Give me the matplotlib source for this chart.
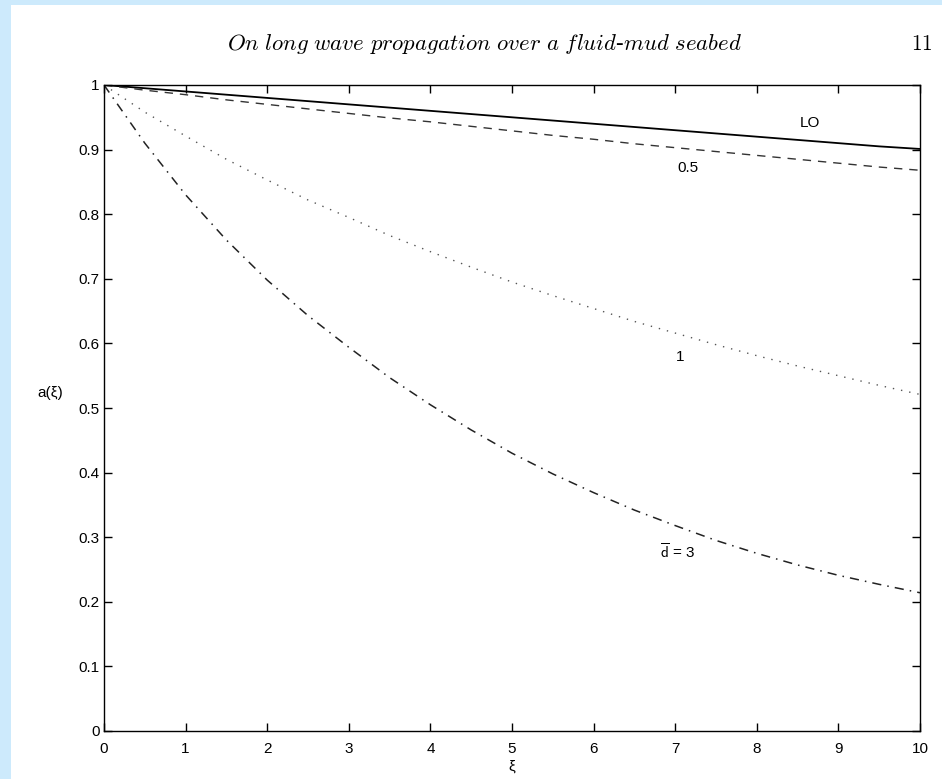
import matplotlib
matplotlib.use("Agg")
import matplotlib.pyplot as plt
from matplotlib.patches import Rectangle

plt.rcParams['font.family'] = ['Liberation Sans', 'DejaVu Sans']
plt.rcParams['mathtext.fontset'] = 'cm'

# values every 0.5 in xi
xi = [0, 0.5, 1, 1.5, 2, 2.5, 3, 3.5, 4, 4.5, 5,
      5.5, 6, 6.5, 7, 7.5, 8, 8.5, 9, 9.5, 10]
a_lo = [1.0, 0.995, 0.990, 0.985, 0.980, 0.975, 0.970, 0.965, 0.960, 0.955, 0.950,
        0.945, 0.940, 0.935, 0.930, 0.925, 0.920, 0.915, 0.910, 0.905, 0.901]
a_d05 = [1.0, 0.992, 0.985, 0.977, 0.970, 0.963, 0.956, 0.949, 0.943, 0.936, 0.929,
         0.922, 0.916, 0.909, 0.903, 0.897, 0.891, 0.885, 0.879, 0.873, 0.868]
a_d1 = [1.0, 0.958, 0.921, 0.885, 0.853, 0.822, 0.795, 0.767, 0.742, 0.718, 0.695,
        0.674, 0.654, 0.634, 0.616, 0.598, 0.581, 0.565, 0.550, 0.535, 0.521]
a_d3 = [1.0, 0.910, 0.830, 0.760, 0.698, 0.643, 0.594, 0.547, 0.505, 0.466, 0.430,
        0.398, 0.369, 0.342, 0.318, 0.295, 0.275, 0.257, 0.241, 0.227, 0.214]

x_ticks = [0, 1, 2, 3, 4, 5, 6, 7, 8, 9, 10]
y_ticks = [0, 0.1, 0.2, 0.3, 0.4, 0.5, 0.6, 0.7, 0.8, 0.9, 1]
y_tick_labels = ['0', '0.1', '0.2', '0.3', '0.4', '0.5', '0.6', '0.7', '0.8', '0.9', '1']

fig = plt.figure(figsize=(9.42, 7.79), dpi=100)
fig.patch.set_facecolor('#cdeafc')
# white page area, kept behind the axes
fig.patches.append(Rectangle((11 / 942, 0), 1, 774 / 779, transform=fig.transFigure,
                             facecolor='white', edgecolor='none', zorder=-10))

ax = fig.add_axes([104 / 942, 48 / 779, 816 / 942, 646 / 779])
ax.set_facecolor('none')

ax.plot(xi, a_lo, color='black', lw=1.3, solid_capstyle='butt')
ax.plot(xi, a_d05, color='#333333', lw=1.0, linestyle=(0, (6, 5)))
ax.plot(xi, a_d1, color='#555555', lw=1.0, linestyle=(0, (1, 5)))
ax.plot(xi, a_d3, color='#222222', lw=1.1, linestyle=(0, (6, 4, 1, 4)))

ax.text(8.65, 0.941, 'LO', fontsize=11, ha='center', va='center')
ax.text(7.16, 0.871, '0.5', fontsize=11, ha='center', va='center')
ax.text(7.06, 0.579, '1', fontsize=11, ha='center', va='center')
ax.text(7.03, 0.277, r'$\overline{\mathsf{d}}$ = 3', fontsize=11, ha='center', va='center')

ax.set_xlim(0, 10)
ax.set_ylim(0, 1)
ax.set_xticks(x_ticks)
ax.set_yticks(y_ticks)
ax.set_yticklabels(y_tick_labels)
ax.tick_params(direction='in', length=6, width=1.0, top=True, right=True,
               labelsize=11, pad=3)
ax.tick_params(axis='x', pad=8)
for s in ax.spines.values():
    s.set_linewidth(1.0)

ax.set_xlabel('ξ', fontsize=11)
ax.xaxis.set_label_coords(0.5, -0.044)
ax.set_ylabel('a(ξ)', fontsize=11, rotation=0)
ax.yaxis.set_label_coords(-0.066, 0.512)

fig.text(0.514, 0.9435,
         r'$\mathit{On\ long\ wave\ propagation\ over\ a\ fluid}$-$\mathit{mud\ seabed}$',
         fontsize=16.4, ha='center', va='center', family=['Liberation Serif'])
fig.text(0.990, 0.9435, r'$\mathrm{11}$', fontsize=15.5, ha='right', va='center')

fig.savefig('out.png', dpi=100)
